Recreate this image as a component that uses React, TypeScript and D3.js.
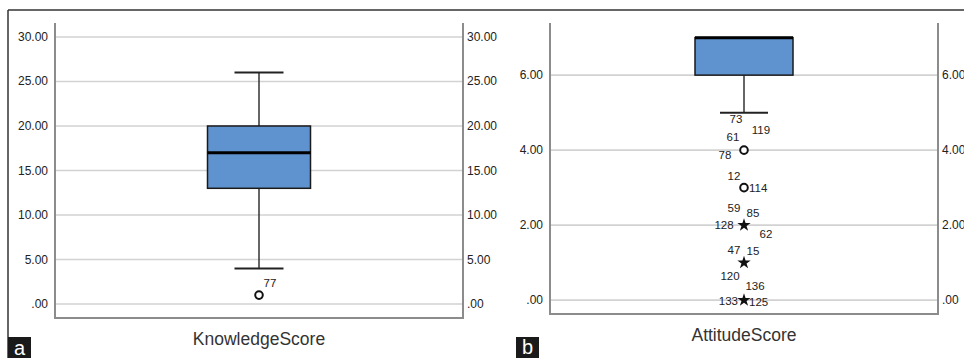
import React from "react";
import * as d3 from "d3";

// ---- Data ----
const knowledgeStats = { min: 4, q1: 13, median: 17, q3: 20, max: 26 };
const knowledgeOutliers = [{ value: 1, label: "77", kind: "circle" }];
const knowledgeTicks = [0, 5, 10, 15, 20, 25, 30];

const attitudeStats = { min: 5, q1: 6, median: 7, q3: 7, max: 7 };
const attitudeOutliers = [
  { value: 4, kind: "circle" },
  { value: 3, kind: "circle" },
  { value: 2, kind: "star" },
  { value: 1, kind: "star" },
  { value: 0, kind: "star" },
];
// case labels attached to each outlier value
const attitudeLabelValues = [4, 4, 4, 4, 3, 3, 2, 2, 2, 2, 1, 1, 1, 1, 0, 0];
const attitudeLabelTexts = ["73", "119", "61", "78", "12", "114", "59", "85", "128", "62", "47", "15", "120", "136", "133", "125"];
const attitudeTicks = [0, 2, 4, 6];

// label placement offsets (layout only)
const attitudeLabelOffsets: [number, number, string][] = [
  [-8, -31, "middle"], [17, -20, "middle"], [-11, -13, "middle"], [-19, 5, "middle"],
  [-10, -11.5, "middle"], [5, 0.5, "start"],
  [-10, -17, "middle"], [9, -12, "middle"], [-20, 0, "middle"], [22, 9, "middle"],
  [-10, -12.5, "middle"], [9, -11.5, "middle"], [-14, 13.5, "middle"], [11, 23.5, "middle"],
  [-6, 1, "end"], [5, 2, "start"],
];

const FONT = "'Liberation Sans', Arial, sans-serif";
const BOX_FILL = "#5f93cf";
const GRID = "#d2d2d2";
const AXIS = "#8c8c8c";

type Stats = { min: number; q1: number; median: number; q3: number; max: number };

function BoxPanel(props: {
  category: string;
  stats: Stats;
  ticks: number[];
  domain: [number, number];
  left: number;
  right: number;
  top: number;
  bottom: number;
  boxWidth: number;
  capWidth: number;
  fmt: (v: number) => string;
  titleY: number;
  children?: (y: d3.ScaleLinear<number, number>, cx: number) => React.ReactNode;
}) {
  const { category, stats, ticks, domain, left, right, top, bottom, boxWidth, capWidth, fmt, titleY } = props;
  const y = d3.scaleLinear().domain(domain).range([bottom, top]);
  const x = d3.scaleBand<string>().domain([category]).range([left, right]);
  const cx = (x(category) as number) + x.bandwidth() / 2;
  return (
    <g>
      {ticks.map((t) => (
        <g key={t}>
          <line x1={left} x2={right} y1={y(t)} y2={y(t)} stroke={GRID} strokeWidth={1.6} />
          <text x={left - 7} y={y(t)} textAnchor="end" dominantBaseline="central" fontSize={12} fill="#222" fontFamily={FONT}>
            {fmt(t)}
          </text>
          <text x={right + 4} y={y(t)} textAnchor="start" dominantBaseline="central" fontSize={12} fill="#222" fontFamily={FONT}>
            {fmt(t)}
          </text>
        </g>
      ))}
      <path d={`M${left},${top}V${bottom}H${right}V${top}`} fill="none" stroke={AXIS} strokeWidth={2} />
      {/* whiskers */}
      {stats.max > stats.q3 && (
        <>
          <line x1={cx} x2={cx} y1={y(stats.q3)} y2={y(stats.max)} stroke="#333" strokeWidth={1.5} />
          <line x1={cx - capWidth / 2} x2={cx + capWidth / 2} y1={y(stats.max)} y2={y(stats.max)} stroke="#222" strokeWidth={2} />
        </>
      )}
      {stats.min < stats.q1 && (
        <>
          <line x1={cx} x2={cx} y1={y(stats.q1)} y2={y(stats.min)} stroke="#333" strokeWidth={1.5} />
          <line x1={cx - capWidth / 2} x2={cx + capWidth / 2} y1={y(stats.min)} y2={y(stats.min)} stroke="#222" strokeWidth={2} />
        </>
      )}
      <rect
        x={cx - boxWidth / 2}
        y={y(stats.q3)}
        width={boxWidth}
        height={y(stats.q1) - y(stats.q3)}
        fill={BOX_FILL}
        stroke="#1a1a1a"
        strokeWidth={1.5}
      />
      <line x1={cx - boxWidth / 2} x2={cx + boxWidth / 2} y1={y(stats.median)} y2={y(stats.median)} stroke="#000" strokeWidth={3} />
      {props.children && props.children(y, cx)}
      <text x={cx} y={titleY} textAnchor="middle" dominantBaseline="central" fontSize={17.5} fill="#333" fontFamily={FONT}>
        {category}
      </text>
    </g>
  );
}

function Marker({ kind, x, y }: { kind: string; x: number; y: number }) {
  if (kind === "circle") {
    return <circle cx={x} cy={y} r={3.8} fill="#fff" stroke="#111" strokeWidth={2} />;
  }
  const p = d3.symbol().type(d3.symbolStar).size(55)();
  return <path d={p || ""} transform={`translate(${x},${y})`} fill="#111" />;
}

export default function App() {
  const fmt = (v: number) => (v === 0 ? ".00" : d3.format(".2f")(v));
  return (
    <svg width={964} height={358} style={{ position: "absolute", left: 0, top: 0, background: "#fff" }}>
      <rect x={0} y={0} width={964} height={358} fill="#fff" />
      <line x1={8} x2={964} y1={10} y2={10} stroke="#333" strokeWidth={1.5} />
      <line x1={8} x2={8} y1={10} y2={358} stroke="#333" strokeWidth={1.5} />

      <BoxPanel
        category="KnowledgeScore"
        stats={knowledgeStats}
        ticks={knowledgeTicks}
        domain={[-1.57, 31.57]}
        left={55}
        right={463}
        top={23}
        bottom={318}
        boxWidth={103}
        capWidth={49}
        fmt={fmt}
        titleY={339}
      >
        {(y, cx) =>
          knowledgeOutliers.map((o) => (
            <g key={o.label}>
              <Marker kind={o.kind} x={cx} y={y(o.value)} />
              <text x={cx + 11} y={y(o.value) - 12} textAnchor="middle" dominantBaseline="central" fontSize={11.5} fill="#222" fontFamily={FONT}>
                {o.label}
              </text>
            </g>
          ))
        }
      </BoxPanel>

      <BoxPanel
        category="AttitudeScore"
        stats={attitudeStats}
        ticks={attitudeTicks}
        domain={[-0.37, 7.39]}
        left={550}
        right={938}
        top={23}
        bottom={314}
        boxWidth={98}
        capWidth={48}
        fmt={fmt}
        titleY={335}
      >
        {(y, cx) => (
          <g>
            {attitudeOutliers.map((o) => (
              <Marker key={o.value} kind={o.kind} x={cx} y={y(o.value)} />
            ))}
            {attitudeLabelTexts.map((t, i) => {
              const [dx, dy, anchor] = attitudeLabelOffsets[i];
              return (
                <text
                  key={t}
                  x={cx + dx}
                  y={y(attitudeLabelValues[i]) + dy}
                  textAnchor={anchor as any}
                  dominantBaseline="central"
                  fontSize={11.5}
                  fill="#222"
                  fontFamily={FONT}
                >
                  {t}
                </text>
              );
            })}
          </g>
        )}
      </BoxPanel>

      <rect x={8} y={337} width={23} height={21} fill="#1a1a1a" />
      <text x={19.5} y={348} textAnchor="middle" dominantBaseline="central" fontSize={20} fill="#fff" fontFamily={FONT}>a</text>
      <rect x={516} y={337} width={23} height={21} fill="#1a1a1a" />
      <text x={527.5} y={347} textAnchor="middle" dominantBaseline="central" fontSize={20} fill="#fff" fontFamily={FONT}>b</text>
    </svg>
  );
}
